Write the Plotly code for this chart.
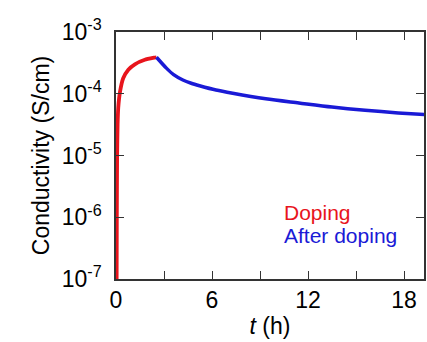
import plotly.graph_objects as go

# Doping phase
t_doping = [0.04, 0.05, 0.07, 0.10, 0.14, 0.25, 0.45, 0.77, 1.18, 1.8, 2.42, 2.53]
s_doping = [1e-7, 1e-6, 1e-5, 3.2e-5, 5.9e-5, 1.07e-4, 1.78e-4, 2.45e-4, 3.0e-4, 3.55e-4, 3.85e-4, 3.9e-4]

# After doping
t_after = [2.53, 3.15, 3.6, 4.18, 4.7, 5.22, 6.25, 7.29, 9.36, 11.43, 13.5, 15.57, 17.64, 19.3]
s_after = [3.9e-4, 2.6e-4, 2.04e-4, 1.67e-4, 1.48e-4, 1.35e-4, 1.15e-4, 1.02e-4, 8.3e-5, 7.1e-5, 6.1e-5, 5.4e-5, 4.9e-5, 4.6e-5]

x_ticks = [0, 3, 6, 9, 12, 15, 18]
x_labels = ["0", "", "6", "", "12", "", "18"]
y_ticks = [1e-7, 1e-6, 1e-5, 1e-4, 1e-3]
y_labels = ["10<sup>-7</sup>", "10<sup>-6</sup>", "10<sup>-5</sup>", "10<sup>-4</sup>", "10<sup>-3</sup>"]

font = "Liberation Sans, Arial, sans-serif"
red = "#e8141c"
blue = "#1a1ad6"

fig = go.Figure()
fig.add_trace(go.Scatter(x=t_doping, y=s_doping, mode="lines",
                         line=dict(color=red, width=3.8, shape="spline", smoothing=0.5),
                         name="Doping"))
fig.add_trace(go.Scatter(x=t_after, y=s_after, mode="lines",
                         line=dict(color=blue, width=3.5, shape="spline", smoothing=0.8),
                         name="After doping"))

fig.add_annotation(x=10.4, y=-5.93, xref="x", yref="y", text="Doping", showarrow=False,
                   xanchor="left", yanchor="middle", font=dict(family=font, size=21, color=red))
fig.add_annotation(x=10.4, y=-6.30, xref="x", yref="y", text="After doping", showarrow=False,
                   xanchor="left", yanchor="middle", font=dict(family=font, size=21, color=blue))

fig.update_layout(
    width=427, height=342,
    margin=dict(l=116, r=1, t=32, b=63),
    paper_bgcolor="white", plot_bgcolor="white",
    showlegend=False,
    font=dict(family=font, size=23, color="black"),
    xaxis=dict(range=[0, 19.25], tickvals=x_ticks, ticktext=x_labels,
               ticks="inside", ticklen=8, tickwidth=1.2, tickcolor="#333",
               showline=True, linecolor="#333", linewidth=1.5, mirror="ticks",
               showgrid=False, zeroline=False, tickfont=dict(size=23),
               title=dict(text="<i>t</i> (h)", font=dict(size=23), standoff=6)),
    yaxis=dict(type="log", range=[-7, -3], tickvals=y_ticks, ticktext=y_labels,
               ticks="inside", ticklen=8, tickwidth=1.2, tickcolor="#333",
               showline=True, linecolor="#333", linewidth=1.5, mirror="ticks",
               showgrid=False, zeroline=False, tickfont=dict(size=23),
               ticklabelstandoff=8,
               title=dict(text="Conductivity (S/cm)", font=dict(size=23), standoff=6)),
)

fig.write_html("out.html")
